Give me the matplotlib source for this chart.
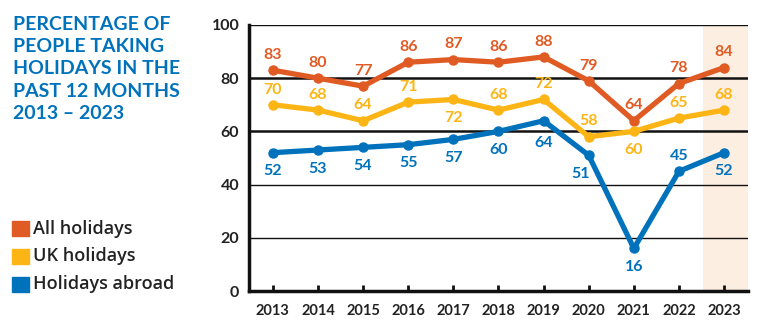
import numpy as np
import matplotlib.pyplot as plt

# 数据
years = [2013, 2014, 2015, 2016, 2017, 2018, 2019, 2020, 2021, 2022, 2023]
all_holidays = [83, 80, 77, 86, 87, 86, 88, 79, 64, 78, 84]
uk_holidays = [70, 68, 64, 71, 72, 68, 72, 58, 60, 65, 68]
abroad = [52, 53, 54, 55, 57, 60, 64, 51, 16, 45, 52]

# 标签位置: 1 上方, -1 下方
uk_pos = [1, 1, 1, 1, -1, 1, 1, 1, -1, 1, 1]
abroad_pos = [-1, -1, -1, -1, -1, -1, -1, -1, -1, 1, -1]

c_all = "#E05A24"
c_uk = "#FDB515"
c_abroad = "#0072BC"
dark = "#222222"

plt.rcParams['font.family'] = ['Lato', 'DejaVu Sans']

fig = plt.figure(figsize=(7.58, 3.28), dpi=100)
ax = fig.add_axes([0.3285, 0.1128, 0.6583, 0.811])

ax.set_xlim(2012.47, 2023.53)
ax.set_ylim(0, 100)

# 2023 高亮
ax.axvspan(2022.53, 2023.53, color="#FDEEE2", zorder=0, lw=0)

# 网格线
for y, w in [(20, 1.0), (40, 1.0), (60, 1.8), (80, 1.8), (100, 1.0)]:
    ax.axhline(y, color="#111111", lw=w, zorder=1)

for vals, col, pos in [(all_holidays, c_all, [1] * 11),
                       (uk_holidays, c_uk, uk_pos),
                       (abroad, c_abroad, abroad_pos)]:
    ax.plot(years, vals, color=col, lw=3.8, marker="o", ms=6.5, zorder=3,
            solid_joinstyle="round", solid_capstyle="round")
    for x, v, p in zip(years, vals, pos):
        dx = 0
        dy = 11 if p > 0 else -13.5
        if col == c_abroad and x == 2020:
            dx = -6
        if col == c_abroad and x == 2019:
            dy = -16
        ax.annotate(str(v), (x, v), xytext=(dx, dy), textcoords="offset points",
                    ha="center", va="center", color=col, fontsize=11.5, fontweight="bold",
                    zorder=4)

for s in ["top", "right"]:
    ax.spines[s].set_visible(False)
ax.spines["left"].set_linewidth(2.5)
ax.spines["bottom"].set_linewidth(2.5)
ax.spines["left"].set_color("#111111")
ax.spines["bottom"].set_color("#111111")

ax.set_xticks(years)
ax.set_xticklabels([str(y) for y in years], fontsize=10.5, fontweight="bold", color=dark)
ax.tick_params(axis="x", direction="in", length=4, width=2, color="#111111", pad=9)
ax.set_yticks([0, 20, 40, 60, 80, 100])
ax.set_yticklabels(["0", "20", "40", "60", "80", "100"], fontsize=11.5, fontweight="bold", color=dark)
ax.tick_params(axis="y", length=0, pad=7)

# 标题
fig.text(0.017, 0.95, "PERCENTAGE OF\nPEOPLE TAKING\nHOLIDAYS IN THE\nPAST 12 MONTHS\n2013 – 2023",
         ha="left", va="top", fontsize=14, fontweight="bold", color=c_abroad, linespacing=1.36)

# 图例
for i, (lab, col) in enumerate([("All holidays", c_all), ("UK holidays", c_uk),
                                 ("Holidays abroad", c_abroad)]):
    y = 0.302 - i * 0.084
    fig.patches.append(plt.Rectangle((0.016, y - 0.023), 0.022, 0.046, color=col,
                                     transform=fig.transFigure, figure=fig))
    fig.text(0.044, y, lab, ha="left", va="center", fontsize=13, fontweight="semibold",
             color=dark, family=["Open Sans", "DejaVu Sans"])

plt.savefig("out.png", dpi=100)
